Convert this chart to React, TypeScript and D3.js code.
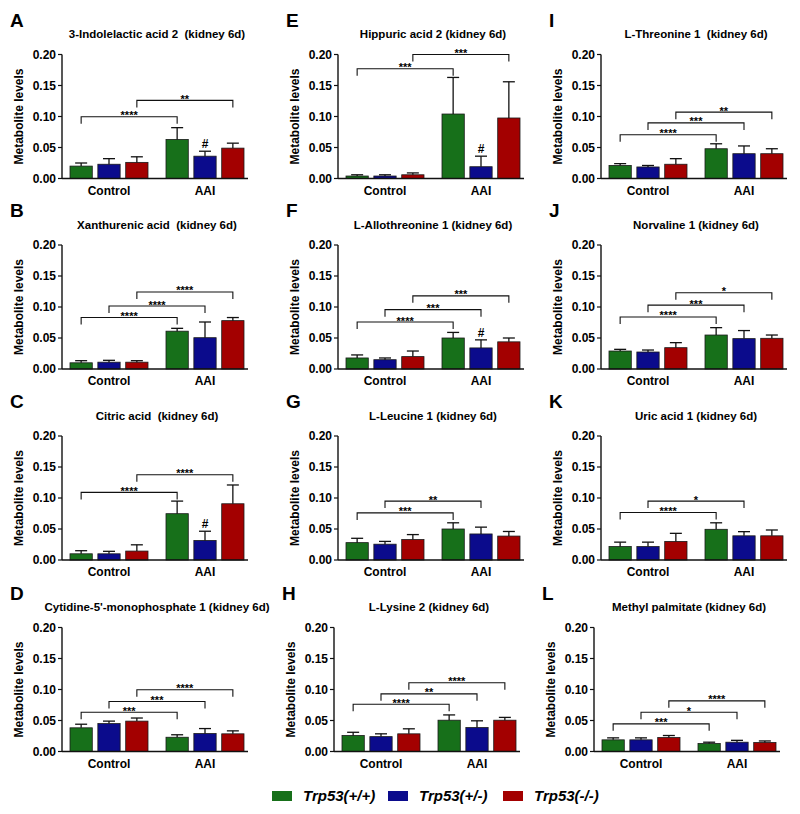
import React from "react";
import * as d3 from "d3";

// ---------- data ----------
const groups = ["Control", "AAI"];
const genotypes = ["Trp53(+/+)", "Trp53(+/-)", "Trp53(-/-)"];
const genotypeColors = ["#17701a", "#0b0b8c", "#a30000"];
const yTicks = [0, 0.05, 0.1, 0.15, 0.2];

const panelLetters = ["A", "B", "C", "D", "E", "F", "G", "H", "I", "J", "K", "L"];
const panelTitles = [
  "3-Indolelactic acid 2  (kidney 6d)",
  "Xanthurenic acid  (kidney 6d)",
  "Citric acid  (kidney 6d)",
  "Cytidine-5'-monophosphate 1 (kidney 6d)",
  "Hippuric acid 2 (kidney 6d)",
  "L-Allothreonine 1 (kidney 6d)",
  "L-Leucine 1 (kidney 6d)",
  "L-Lysine 2 (kidney 6d)",
  "L-Threonine 1  (kidney 6d)",
  "Norvaline 1 (kidney 6d)",
  "Uric acid 1 (kidney 6d)",
  "Methyl palmitate (kidney 6d)",
];

// means: [Control +/+, +/-, -/-, AAI +/+, +/-, -/-]
const panelMeans = [
  [0.020, 0.023, 0.026, 0.063, 0.036, 0.049],
  [0.010, 0.011, 0.011, 0.061, 0.0505, 0.078],
  [0.010, 0.010, 0.0144, 0.0747, 0.0315, 0.0907],
  [0.0382, 0.045, 0.049, 0.023, 0.029, 0.0285],
  [0.004, 0.004, 0.006, 0.104, 0.019, 0.0976],
  [0.0178, 0.015, 0.020, 0.050, 0.034, 0.0438],
  [0.028, 0.0255, 0.033, 0.050, 0.042, 0.0386],
  [0.0258, 0.024, 0.0285, 0.0505, 0.0387, 0.0505],
  [0.021, 0.0186, 0.023, 0.048, 0.040, 0.040],
  [0.029, 0.0274, 0.0344, 0.0548, 0.049, 0.0495],
  [0.0217, 0.0217, 0.030, 0.0495, 0.039, 0.039],
  [0.0188, 0.0188, 0.0226, 0.0129, 0.015, 0.0145],
];
// upper end of the error bars (mean + SD)
const panelUpper = [
  [0.025, 0.032, 0.035, 0.082, 0.044, 0.057],
  [0.0134, 0.014, 0.0134, 0.0656, 0.0758, 0.083],
  [0.015, 0.014, 0.0245, 0.095, 0.0464, 0.121],
  [0.044, 0.049, 0.054, 0.027, 0.037, 0.0333],
  [0.006, 0.006, 0.009, 0.163, 0.036, 0.156],
  [0.0227, 0.0178, 0.029, 0.059, 0.047, 0.050],
  [0.035, 0.030, 0.041, 0.060, 0.053, 0.046],
  [0.031, 0.0285, 0.0366, 0.059, 0.0495, 0.055],
  [0.024, 0.021, 0.032, 0.056, 0.0525, 0.048],
  [0.0317, 0.0306, 0.0425, 0.0667, 0.062, 0.0548],
  [0.0288, 0.0288, 0.043, 0.060, 0.0457, 0.0484],
  [0.022, 0.022, 0.0258, 0.015, 0.018, 0.017],
];
// brackets: [genotype index, level, stars]
const panelBrackets: [number, number, string][][] = [
  [[0, 0.0995, "****"], [2, 0.126, "**"]],
  [[0, 0.083, "****"], [1, 0.1016, "****"], [2, 0.1242, "****"]],
  [[0, 0.109, "****"], [2, 0.1376, "****"]],
  [[0, 0.0634, "***"], [1, 0.0806, "***"], [2, 0.0995, "****"]],
  [[0, 0.177, "***"], [2, 0.2, "***"]],
  [[0, 0.0757, "****"], [1, 0.0957, "***"], [2, 0.118, "***"]],
  [[0, 0.076, "***"], [1, 0.095, "**"]],
  [[0, 0.0763, "****"], [1, 0.093, "**"], [2, 0.111, "****"]],
  [[0, 0.0705, "****"], [1, 0.0897, "***"], [2, 0.107, "**"]],
  [[0, 0.0839, "****"], [1, 0.103, "***"], [2, 0.123, "*"]],
  [[0, 0.0766, "****"], [1, 0.095, "*"]],
  [[0, 0.0446, "***"], [1, 0.0634, "*"], [2, 0.0817, "****"]],
];
const panelHash = [true, false, true, false, true, true, false, false, false, false, false, false];

// ---------- layout ----------
const FONT = "'Liberation Sans', Arial, Helvetica, sans-serif";
const ROW_BASE = [178.5, 369, 560, 751.5];
const PLOT_H = 124;
const COL_X = [62, 338, 601];
const COL_X_LAST_ROW = [62, 334, 594];
const LEGEND_X = [272, 388, 503];
const LEGEND_Y = 791;

function Panel({ i }: { i: number }) {
  const col = Math.floor(i / 4);
  const row = i % 4;
  const x0 = row === 3 ? COL_X_LAST_ROW[col] : COL_X[col];
  const y0 = ROW_BASE[row];
  const yTop = y0 - PLOT_H;
  const y = d3.scaleLinear().domain([0, 0.2]).range([y0, yTop]);
  const xg = d3.scaleBand().domain(groups).range([x0 + 8, x0 + 182]).paddingInner(0.1875);
  const xb = d3.scaleBand().domain(genotypes).range([0, xg.bandwidth()]).paddingInner(0.2);
  const cx = (gi: number, k: number) =>
    (xg(groups[gi]) as number) + (xb(genotypes[k]) as number) + xb.bandwidth() / 2;
  const means = panelMeans[i];
  const upper = panelUpper[i];

  return (
    <g>
      <text x={x0 - 52} y={yTop - 28} fontSize={19} fontWeight="bold" fontFamily={FONT}>
        {panelLetters[i]}
      </text>
      <text
        x={x0 + 95}
        y={yTop - 16.5}
        fontSize={11.5}
        fontWeight="bold"
        fontFamily={FONT}
        textAnchor="middle"
        style={{ whiteSpace: "pre" }}
      >
        {panelTitles[i]}
      </text>
      <text
        transform={`translate(${x0 - 43},${(y0 + yTop) / 2}) rotate(-90)`}
        fontSize={12}
        fontWeight="bold"
        fontFamily={FONT}
        textAnchor="middle"
        dominantBaseline="central"
      >
        Metabolite levels
      </text>
      {/* bars */}
      {groups.map((g, gi) =>
        genotypes.map((gt, k) => {
          const v = means[gi * 3 + k];
          const x = (xg(g) as number) + (xb(gt) as number);
          return (
            <rect
              key={g + gt}
              x={x}
              y={y(v)}
              width={xb.bandwidth()}
              height={y0 - y(v)}
              fill={genotypeColors[k]}
              stroke="#1a1a1a"
              strokeWidth={0.8}
            />
          );
        })
      )}
      {/* error bars */}
      {groups.map((g, gi) =>
        genotypes.map((gt, k) => {
          const m = means[gi * 3 + k];
          const u = upper[gi * 3 + k];
          const c = cx(gi, k);
          return (
            <g key={"e" + g + gt} stroke="#111" strokeWidth={1.3} fill="none">
              <line x1={c} x2={c} y1={y(m)} y2={y(u)} />
              <line x1={c - 6} x2={c + 6} y1={y(u)} y2={y(u)} />
            </g>
          );
        })
      )}
      {/* hash */}
      {panelHash[i] && (
        <text
          x={cx(1, 1)}
          y={y(upper[4]) - 3}
          fontSize={12}
          fontWeight="bold"
          fontFamily={FONT}
          textAnchor="middle"
        >
          #
        </text>
      )}
      {/* brackets */}
      {panelBrackets[i].map(([k, lvl, stars], bi) => {
        const xl = cx(0, k);
        const xr = cx(1, k);
        const yl = y(lvl);
        return (
          <g key={"b" + bi}>
            <path
              d={`M${xl},${yl + 7}V${yl}H${xr}V${yl + 7}`}
              fill="none"
              stroke="#111"
              strokeWidth={1.1}
            />
            <text
              x={(xl + xr) / 2}
              y={yl + 2.5}
              fontSize={11}
              fontWeight="bold"
              fontFamily={FONT}
              textAnchor="middle"
            >
              {stars}
            </text>
          </g>
        );
      })}
      {/* axes */}
      <line x1={x0} x2={x0} y1={y0} y2={yTop} stroke="#111" strokeWidth={1.4} />
      <line x1={x0} x2={x0 + 186} y1={y0} y2={y0} stroke="#111" strokeWidth={1.4} />
      {yTicks.map((t) => (
        <g key={t}>
          <line x1={x0 - 4} x2={x0} y1={y(t)} y2={y(t)} stroke="#111" strokeWidth={1.2} />
          <text
            x={x0 - 6}
            y={y(t)}
            dy="0.36em"
            fontSize={12}
            fontWeight="bold"
            fontFamily={FONT}
            textAnchor="end"
          >
            {d3.format(".2f")(t)}
          </text>
        </g>
      ))}
      {groups.map((g) => (
        <text
          key={g}
          x={(xg(g) as number) + xg.bandwidth() / 2}
          y={y0 + 16}
          fontSize={12}
          fontWeight="bold"
          fontFamily={FONT}
          textAnchor="middle"
        >
          {g}
        </text>
      ))}
    </g>
  );
}

export default function App() {
  return (
    <svg
      width={800}
      height={814}
      viewBox="0 0 800 814"
      style={{ position: "absolute", left: 0, top: 0, background: "#fff" }}
    >
      <rect width={800} height={814} fill="#fff" />
      {panelLetters.map((_, i) => (
        <Panel key={i} i={i} />
      ))}
      {genotypes.map((gt, k) => (
        <g key={gt}>
          <rect x={LEGEND_X[k]} y={LEGEND_Y} width={20} height={10} fill={genotypeColors[k]} />
          <text
            x={LEGEND_X[k] + 31}
            y={LEGEND_Y + 10}
            fontSize={15}
            fontWeight="bold"
            fontStyle="italic"
            fontFamily={FONT}
          >
            {gt}
          </text>
        </g>
      ))}
    </svg>
  );
}
